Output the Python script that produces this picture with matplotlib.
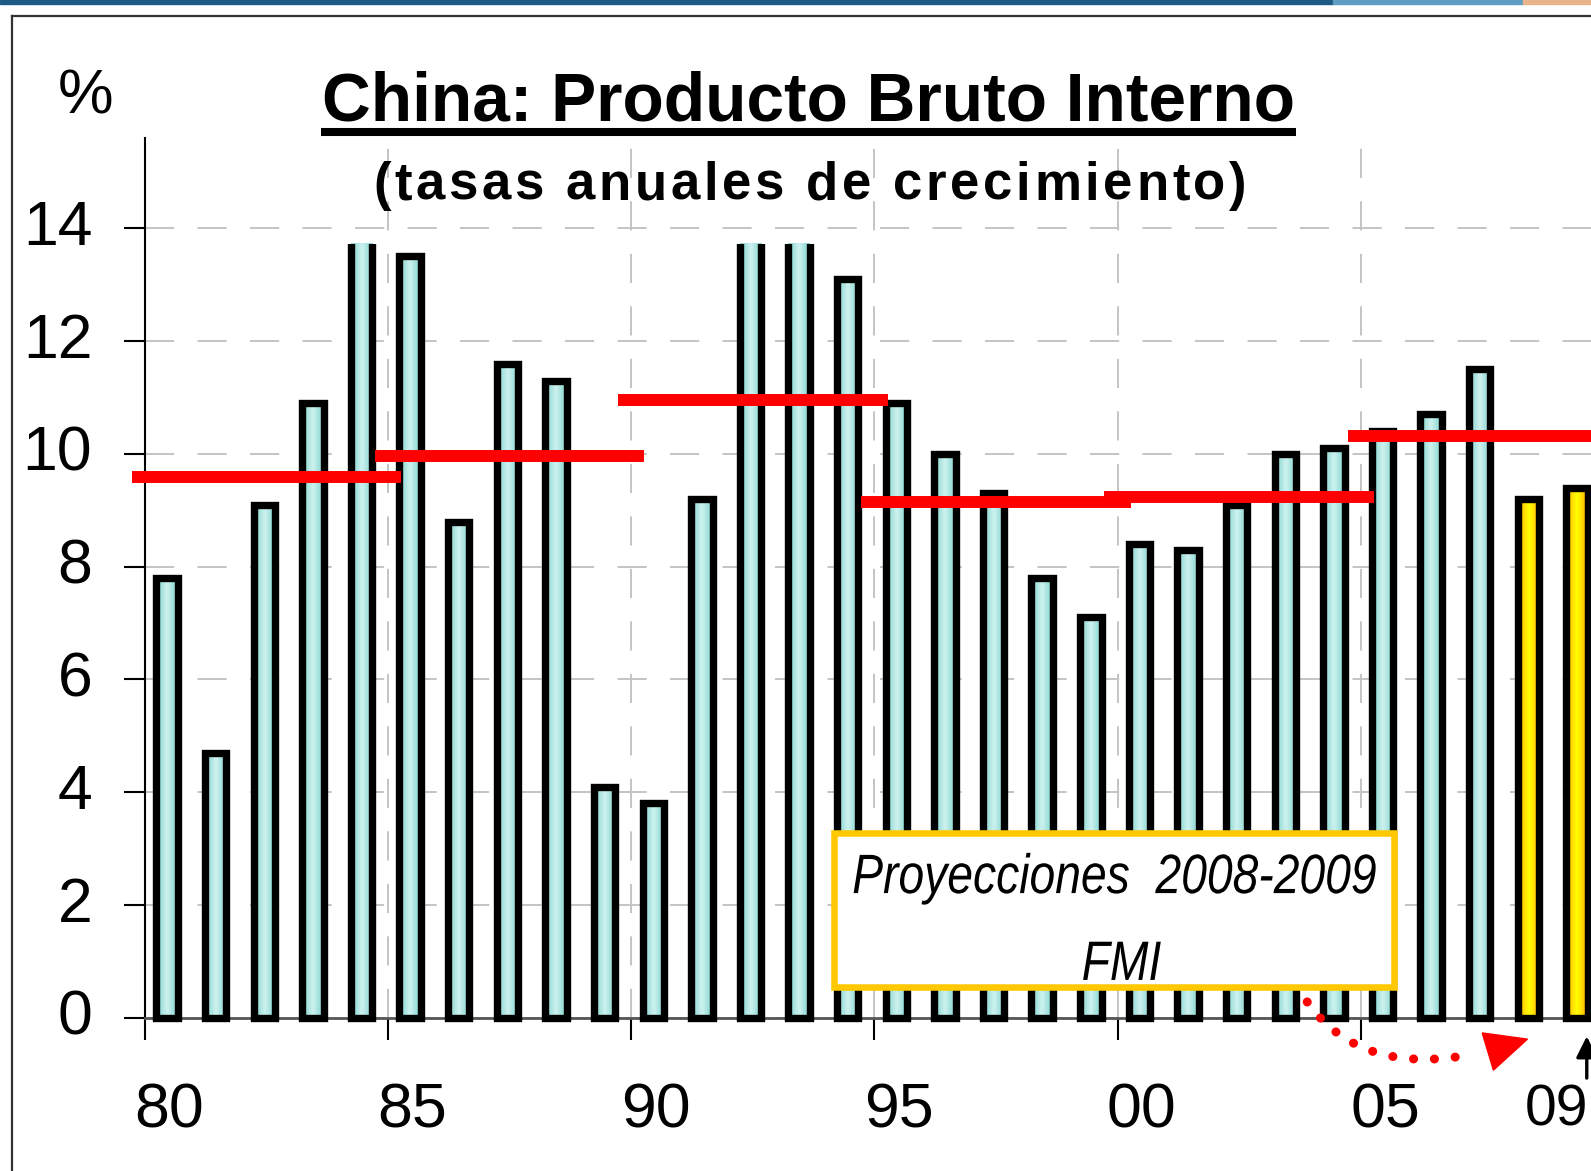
import numpy as np
import matplotlib
matplotlib.use('Agg')
import matplotlib.pyplot as plt
from matplotlib.colors import LinearSegmentedColormap
from matplotlib.patches import Rectangle, Polygon, PathPatch
from matplotlib.lines import Line2D
from matplotlib.textpath import TextPath
from matplotlib.font_manager import FontProperties
from matplotlib.transforms import Affine2D, ScaledTranslation

# PIB China, tasas anuales (%), 1980-2009 (2008-2009: proyecciones FMI)
years = list(range(1980, 2010))
growth = [7.8, 4.7, 9.1, 10.9, 15.2, 13.5, 8.8, 11.6, 11.3, 4.1,
          3.8, 9.2, 14.2, 14.0, 13.1, 10.9, 10.0, 9.3, 7.8, 7.1,
          8.4, 8.3, 9.1, 10.0, 10.1, 10.4, 10.7, 11.5, 9.2, 9.4]
first_forecast = 2008

# promedios quinquenales
period_start = [1980, 1985, 1990, 1995, 2000, 2005]
period_avg = [9.59, 9.96, 10.95, 9.15, 9.24, 10.32]

xtick_years = [1980, 1985, 1990, 1995, 2000, 2005]
xtick_labels = ['80', '85', '90', '95', '00', '05']
yticks = [0, 2, 4, 6, 8, 10, 12, 14]

plt.rcParams['font.family'] = ['Liberation Sans', 'DejaVu Sans']

W, H = 1591, 1171
fig = plt.figure(figsize=(W / 100, H / 100), dpi=100)
fig.patch.set_facecolor('white')

ax = fig.add_axes([0.0912, 0.1309, 0.9474, 0.7512])
x = np.array(years) - years[0]
ax.set_xlim(-0.5, 30.5)
ax.set_ylim(0, 15.6)

# grilla punteada gris
dash = (0, (15, 12))
ax.set_axisbelow(True)
ax.set_yticks(yticks)
ax.set_yticklabels([str(v) for v in yticks])
ax.yaxis.grid(True, color='#C4C4C4', linestyle=dash, linewidth=1.4)
ax.set_xticks([y - years[0] for y in xtick_years])
ax.set_xticklabels(xtick_labels)
ax.set_xticks(np.arange(-0.5, 30, 5), minor=True)
ax.xaxis.grid(True, which='minor', color='#C4C4C4', linestyle=dash, linewidth=1.4)
ax.tick_params(axis='x', which='major', length=0, pad=46, labelsize=45)
ax.tick_params(axis='x', which='minor', length=16, width=1.5, direction='out', color='black')
ax.tick_params(axis='y', length=15, width=1.5, direction='out', pad=23, labelsize=45)
lift = ScaledTranslation(0, 6 / 100, fig.dpi_scale_trans)
for lab in ax.get_yticklabels():
    lab.set_transform(lab.get_transform() + lift)

for s in ['top', 'right']:
    ax.spines[s].set_visible(False)
ax.spines['left'].set_linewidth(1.5)
ax.spines['bottom'].set_color('#555555')
ax.spines['bottom'].set_linewidth(2)

# barras con degradé, recortadas en el tope del gráfico
top_clip = 13.73
clip_rect = Rectangle((-1, -1), 40, top_clip + 1, transform=ax.transData)
cyan = LinearSegmentedColormap.from_list('cy', ['#7CD3CD', '#CFF2EF', '#7CD3CD'])
yellow = LinearSegmentedColormap.from_list(
    'ye', ['#FF9000', '#FFD800', '#FFFF00', '#FFD800', '#FF9000'])
grad = np.linspace(0, 1, 64).reshape(1, -1)
bw = 0.44
xb = x - 0.05

bars = ax.bar(xb, growth, width=bw, facecolor='none', edgecolor='black',
              linewidth=5.3, zorder=3)
for xi, yr, v, patch in zip(xb, years, growth, bars.patches):
    patch.set_clip_path(clip_rect)
    cm = yellow if yr >= first_forecast else cyan
    ax.imshow(grad, cmap=cm, aspect='auto', interpolation='bilinear',
              extent=[xi - bw / 2, xi + bw / 2, 0, min(v, top_clip)], zorder=2)
ax.set_xlim(-0.5, 30.5)
ax.set_ylim(0, 15.6)

# promedios por quinquenio
starts = np.array(period_start) - years[0]
ax.hlines(period_avg, starts - 0.77, starts + 4.77, color='#FF0000',
          linewidth=8.6, zorder=4, clip_on=False)

# recuadro de proyecciones
ax.add_patch(Rectangle((13.66, 0.54), 25.18 - 13.66, 3.28 - 0.54,
                       facecolor='white', edgecolor='#FFC800', linewidth=4.7,
                       zorder=5, clip_on=False))


def squeezed_text(xd, yd, s, size, sx, **fp):
    # texto angosto: path del texto escalado en x, centrado, y = línea base
    path = TextPath((0, 0), s, size=size, prop=FontProperties(**fp))
    ext = path.get_extents()
    k = fig.dpi / 72
    tr = (Affine2D().translate(-(ext.x0 + ext.x1) / 2, 0).scale(sx * k, k)
          + ScaledTranslation(xd, yd, ax.transData))
    ax.add_artist(PathPatch(path, transform=tr, facecolor='black',
                            edgecolor='none', zorder=6))


box_font = dict(family='Liberation Sans', style='italic')
ref = TextPath((0, 0), 'Proyecciones  2008-2009', size=40,
               prop=FontProperties(**box_font)).get_extents()
sx = 522 / (ref.width * fig.dpi / 72)
squeezed_text(19.44, 2.21, 'Proyecciones  2008-2009', 40, sx, **box_font)
squeezed_text(19.59, 0.67, 'FMI', 40, sx, **box_font)

# flecha punteada roja hacia las proyecciones
p0, p1, p2 = np.array([23.40, 0.28]), np.array([24.5, -1.05]), np.array([26.85, -0.64])
t = np.linspace(0, 1, 200)[:, None]
curve = (1 - t) ** 2 * p0 + 2 * (1 - t) * t * p1 + t ** 2 * p2
ax.plot(curve[:, 0], curve[:, 1], color='#FF0000', linewidth=6.5,
        linestyle=(0, (0.01, 2.3)), dash_capstyle='round', clip_on=False, zorder=6)
ax.add_patch(Polygon([(27.00, -0.27), (27.93, -0.38), (27.23, -0.93)],
                     closed=True, color='#FF0000', clip_on=False, zorder=6))

# etiqueta 09
ax.text(28.52, -1.64, '09', fontsize=41, ha='center', va='center')
ax.annotate('', xy=(29.15, -0.28), xytext=(29.15, -1.12),
            arrowprops=dict(arrowstyle='-|>', color='black', lw=2.4,
                            mutation_scale=32), annotation_clip=False)

# títulos
fig.text(0.508, 0.8975, 'China: Producto Bruto Interno', fontsize=48.7,
         fontweight='bold', ha='center', va='baseline')
fig.add_artist(Line2D([0.2015, 0.8144], [0.8873, 0.8873], transform=fig.transFigure,
                      color='black', linewidth=5.8, solid_capstyle='butt'))


def tracked_text(xc, y, s, target_px, **kw):
    r = fig.canvas.get_renderer()

    def width(txt):
        tt = fig.text(0, 0, txt, **kw)
        w = tt.get_window_extent(r).width
        tt.remove()
        return w

    space = width('a a') - width('aa')
    widths = [space if ch == ' ' else width(ch) for ch in s]
    gap = (target_px - sum(widths)) / (len(s) - 1)
    x0 = xc * W - target_px / 2
    for ch, w in zip(s, widths):
        if ch != ' ':
            fig.text(x0 / W, y, ch, ha='left', va='baseline', **kw)
        x0 += w + gap


tracked_text(0.509, 0.8296, '(tasas anuales de crecimiento)', 873,
             fontsize=38, fontweight='bold')

fig.text(0.0536, 0.9035, '%', fontsize=45, ha='center', va='baseline')

# marco y franja superior
fig.add_artist(Line2D([0.0075, 0.0075], [0, 0.9863], transform=fig.transFigure,
                      color='#333333', linewidth=1.6))
fig.add_artist(Line2D([0.0075, 1], [0.9863, 0.9863], transform=fig.transFigure,
                      color='#333333', linewidth=1.6))
strip_h = 4 / H
fig.add_artist(Rectangle((0, 1 - strip_h), 1333 / W, strip_h, transform=fig.transFigure,
                         color='#1D5A86'))
fig.add_artist(Rectangle((1333 / W, 1 - strip_h), 190 / W, strip_h,
                         transform=fig.transFigure, color='#5E9EC2'))
fig.add_artist(Rectangle((1523 / W, 1 - strip_h), 68 / W, strip_h,
                         transform=fig.transFigure, color='#E9B48A'))

fig.savefig('out.png', dpi=100, facecolor='white')
